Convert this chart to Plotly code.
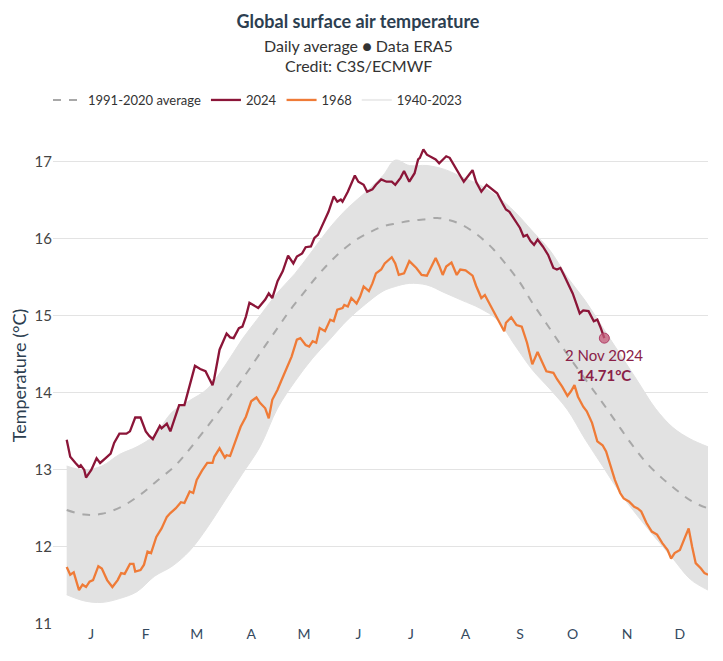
import plotly.graph_objects as go

# ---------------- data (day index 0 = 1 Jan, leap-year calendar) ----------------
month_labels = ["J", "F", "M", "A", "M", "J", "J", "A", "S", "O", "N", "D"]
month_tick_days = [14, 45, 74, 105, 135, 166, 196, 227, 258, 288, 319, 349]

days_2024 = [0, 2, 5, 7, 8, 10, 11, 14, 17, 19, 22, 25, 27, 30, 34, 36, 39, 42, 45, 47,
             49, 51, 53, 54, 57, 59, 62, 64, 67, 70, 73, 76, 79, 81, 83, 84, 87, 91, 93, 95,
             98, 100, 102, 104, 109, 113, 115, 117, 119, 120, 123, 126, 129, 131, 134, 136,
             139, 141, 143, 146, 149, 152, 154, 156, 157, 160, 164, 166, 169, 171, 174, 176,
             179, 182, 185, 187, 190, 192, 194, 195, 198, 200, 201, 203, 205, 207, 210, 212,
             214, 216, 218, 221, 224, 226, 229, 231, 233, 236, 239, 242, 245, 248, 250, 252,
             255, 258, 260, 262, 264, 266, 268, 271, 274, 277, 279, 281, 283, 286, 288, 290,
             292, 294, 297, 300, 302, 304, 306]
temps_2024 = [13.39, 13.17, 13.09, 13.04, 13.06, 13.0, 12.9, 13.0, 13.15, 13.09, 13.15, 13.21,
              13.35, 13.47, 13.47, 13.5, 13.68, 13.68, 13.5, 13.44, 13.4, 13.48, 13.57, 13.54,
              13.6, 13.5, 13.71, 13.84, 13.84, 14.08, 14.35, 14.31, 14.28, 14.19, 14.1, 14.19,
              14.56, 14.77, 14.72, 14.71, 14.84, 14.86, 14.99, 15.17, 15.1, 15.21, 15.29, 15.23,
              15.38, 15.45, 15.58, 15.78, 15.68, 15.77, 15.81, 15.89, 15.9, 16.01, 16.05, 16.2,
              16.35, 16.55, 16.48, 16.51, 16.48, 16.61, 16.82, 16.74, 16.7, 16.61, 16.64, 16.7,
              16.77, 16.74, 16.74, 16.7, 16.79, 16.88, 16.77, 16.74, 16.85, 17.03, 17.05, 17.16,
              17.09, 17.07, 17.03, 16.98, 17.03, 17.07, 17.05, 16.94, 16.83, 16.74, 16.83, 16.89,
              16.74, 16.61, 16.7, 16.64, 16.59, 16.46, 16.38, 16.35, 16.25, 16.14, 16.03, 16.05,
              15.97, 15.92, 15.99, 15.9, 15.79, 15.62, 15.6, 15.62, 15.53, 15.38, 15.29, 15.16,
              15.03, 15.07, 15.06, 14.93, 14.95, 14.84, 14.71]

days_1968 = [0, 2, 4, 7, 9, 11, 13, 15, 18, 20, 23, 26, 29, 31, 33, 36, 38, 39, 42, 44, 46,
             48, 51, 54, 57, 59, 62, 65, 67, 70, 72, 74, 77, 80, 83, 84, 87, 90, 91, 93, 96, 99,
             102, 105, 108, 110, 113, 115, 117, 120, 122, 125, 128, 131, 133, 136, 138, 140,
             142, 144, 147, 150, 152, 154, 157, 158, 160, 162, 165, 167, 169, 172, 174, 176,
             179, 181, 185, 187, 189, 192, 195, 199, 202, 205, 207, 210, 212, 214, 216, 219,
             222, 224, 227, 229, 231, 233, 236, 238, 241, 244, 247, 249, 250, 253, 256, 259,
             262, 265, 268, 270, 273, 277, 279, 282, 285, 287, 289, 291, 294, 296, 299, 302,
             305, 307, 309, 312, 315, 317, 320, 323, 325, 327, 330, 333, 336, 339, 342, 344,
             346, 349, 352, 354, 356, 358, 361, 363, 365]
temps_1968 = [11.74, 11.64, 11.67, 11.44, 11.51, 11.48, 11.55, 11.57, 11.75, 11.72, 11.57,
              11.48, 11.57, 11.66, 11.65, 11.78, 11.78, 11.68, 11.7, 11.77, 11.94, 11.92, 12.13,
              12.24, 12.39, 12.44, 12.5, 12.58, 12.57, 12.72, 12.7, 12.87, 12.99, 13.09, 13.09,
              13.17, 13.28, 13.16, 13.19, 13.18, 13.37, 13.56, 13.69, 13.89, 13.94, 13.87, 13.8,
              13.67, 13.91, 14.04, 14.15, 14.32, 14.47, 14.69, 14.71, 14.62, 14.6, 14.67, 14.65,
              14.84, 14.8, 14.95, 14.93, 15.08, 15.1, 15.14, 15.12, 15.23, 15.16, 15.25, 15.38,
              15.32, 15.42, 15.55, 15.6, 15.68, 15.76, 15.68, 15.53, 15.55, 15.71, 15.62, 15.53,
              15.52, 15.62, 15.75, 15.65, 15.53, 15.64, 15.69, 15.53, 15.6, 15.59, 15.55, 15.52,
              15.39, 15.23, 15.27, 15.14, 15.01, 14.88, 14.8, 14.91, 14.98, 14.88, 14.86, 14.65,
              14.37, 14.53, 14.43, 14.28, 14.26, 14.18, 14.08, 13.96, 14.02, 14.1, 13.95, 13.82,
              13.76, 13.61, 13.37, 13.32, 13.24, 13.09, 12.87, 12.7, 12.63, 12.59, 12.52, 12.5,
              12.46, 12.31, 12.2, 12.16, 12.05, 11.96, 11.85, 11.92, 11.96, 12.13, 12.24, 12.0,
              11.79, 11.72, 11.66, 11.64]

days_avg = [0, 10, 20, 31, 42, 51, 62, 71, 80, 88, 95, 100, 104, 112, 120, 127, 135, 142,
            150, 157, 165, 173, 180, 188, 195, 203, 211, 218, 225, 232, 238, 243, 250, 258,
            265, 273, 281, 289, 297, 305, 313, 321, 330, 339, 347, 356, 365]
temps_avg = [12.48, 12.42, 12.43, 12.52, 12.68, 12.85, 13.06, 13.3, 13.56, 13.8, 14.02, 14.18,
             14.31, 14.58, 14.84, 15.07, 15.3, 15.5, 15.7, 15.85, 15.99, 16.09, 16.16, 16.2,
             16.23, 16.25, 16.27, 16.24, 16.18, 16.08, 15.97, 15.86, 15.67, 15.43, 15.17, 14.9,
             14.63, 14.37, 14.12, 13.87, 13.61, 13.35, 13.09, 12.89, 12.74, 12.59, 12.5]

# envelope of the 1940-2023 years
days_env = [0, 10, 20, 30, 40, 50, 60, 70, 80, 90, 100, 110, 120, 130, 140, 150, 160, 170,
            180, 187, 195, 205, 215, 225, 235, 245, 255, 265, 275, 285, 295, 305, 315, 325,
            335, 345, 355, 365]
temps_env_high = [13.05, 13.0, 13.05, 13.2, 13.3, 13.45, 13.75, 13.9, 14.05, 14.35, 14.7,
                  15.0, 15.3, 15.55, 15.85, 16.15, 16.4, 16.6, 16.82, 17.02, 16.95, 16.95,
                  16.9, 16.8, 16.7, 16.55, 16.35, 16.1, 15.85, 15.5, 15.2, 14.85, 14.5, 14.15,
                  13.8, 13.55, 13.4, 13.3]
temps_env_low = [11.38, 11.3, 11.28, 11.33, 11.42, 11.62, 11.75, 11.95, 12.25, 12.6, 12.95,
                 13.3, 13.8, 14.15, 14.45, 14.7, 14.95, 15.15, 15.32, 15.38, 15.42, 15.4,
                 15.3, 15.2, 15.1, 14.95, 14.62, 14.3, 14.05, 13.78, 13.4, 13.05, 12.7, 12.4,
                 12.12, 11.85, 11.58, 11.44]

last_label = "2 Nov 2024"

# ---------------- styling ----------------
FONT = "Lato"
C2024 = "#8B1538"
C1968 = "#EF7B37"
CAVG = "#A8A8A8"
CGREY = "#E2E2E2"

# page shows the figure with an 8px body offset; size the figure accordingly
W, H = 715, 653
ML, MR, MT, MB = 45, 15, 119, 37
PLOT_H = H - MT - MB


def py(page_y):
    """page pixel y -> paper y"""
    return (H - MB + 8 - page_y) / PLOT_H


def px(page_x):
    """page pixel x -> paper x"""
    return (page_x - 8 - ML) / (W - ML - MR)


fig = go.Figure()

# grey band (1940-2023)
fig.add_trace(go.Scatter(x=days_env, y=temps_env_low, mode="lines",
                         line=dict(color=CGREY, width=1, shape="spline"),
                         showlegend=False, hoverinfo="skip"))
fig.add_trace(go.Scatter(x=days_env, y=temps_env_high, mode="lines",
                         line=dict(color=CGREY, width=1, shape="spline"),
                         fill="tonexty", fillcolor=CGREY,
                         showlegend=False, hoverinfo="skip"))
fig.add_trace(go.Scatter(x=[None], y=[None], mode="lines", name="1940-2023",
                         line=dict(color="#EBEBEB", width=2), legendrank=4))

fig.add_trace(go.Scatter(x=days_avg, y=temps_avg, mode="lines", name="1991-2020 average",
                         line=dict(color=CAVG, width=2, dash="8px,8px", shape="spline"),
                         legendrank=1))
fig.add_trace(go.Scatter(x=days_1968, y=temps_1968, mode="lines", name="1968",
                         line=dict(color=C1968, width=2.3), legendrank=3))
fig.add_trace(go.Scatter(x=days_2024, y=temps_2024, mode="lines", name="2024",
                         line=dict(color=C2024, width=2.3), legendrank=2))
fig.add_trace(go.Scatter(x=[days_2024[-1]], y=[temps_2024[-1]], mode="markers",
                         marker=dict(size=10, color="rgba(196,90,120,0.75)",
                                     line=dict(color="#B04068", width=1)),
                         showlegend=False, hoverinfo="skip"))

fig.add_annotation(x=days_2024[-1], y=temps_2024[-1], xref="x", yref="y",
                   text=f"{last_label}<br><b>{temps_2024[-1]:.2f}°C</b>",
                   showarrow=False, yanchor="top", yshift=-6,
                   font=dict(family=FONT, size=15, color="#8A2047"), align="center")

for txt, ypage in [("Daily average ● Data ERA5", 45), ("Credit: C3S/ECMWF", 66)]:
    fig.add_annotation(x=px(358), y=py(ypage), xref="paper", yref="paper",
                       text=txt, showarrow=False, xanchor="center", yanchor="middle",
                       font=dict(family=FONT, size=16, color="#333333"))

fig.update_layout(
    width=W, height=H,
    margin=dict(l=ML, r=MR, t=MT, b=MB, autoexpand=False),
    paper_bgcolor="white", plot_bgcolor="white",
    font=dict(family=FONT, color="#333333"),
    title=dict(text="<b>Global surface air temperature</b>", x=(358 - 8) / W,
               xref="container", y=1 - (22 - 8) / H, yref="container",
               yanchor="middle", xanchor="center",
               font=dict(family=FONT, size=18, color="#2C3E50")),
    showlegend=True,
    legend=dict(orientation="h", x=px(48), xanchor="left", y=py(100),
                yanchor="middle", font=dict(family=FONT, size=13, color="#333333"),
                traceorder="normal", bgcolor="rgba(0,0,0,0)"),
    xaxis=dict(range=[-7.8, 365], tickvals=month_tick_days, ticktext=month_labels,
               showgrid=False, zeroline=False, showline=False, ticks="", automargin=False,
               tickfont=dict(family=FONT, size=14, color="#34495E")),
    yaxis=dict(range=[11, 17.45], dtick=1, tick0=11, showgrid=True, gridcolor="#E3E3E3",
               gridwidth=1, zeroline=False, showline=False, ticks="", automargin=False,
               tickfont=dict(family=FONT, size=15, color="#444444"),
               title=dict(text="Temperature (°C)", standoff=10,
                          font=dict(family=FONT, size=18, color="#2C3E50"))),
)

fig.write_html("out.html")
